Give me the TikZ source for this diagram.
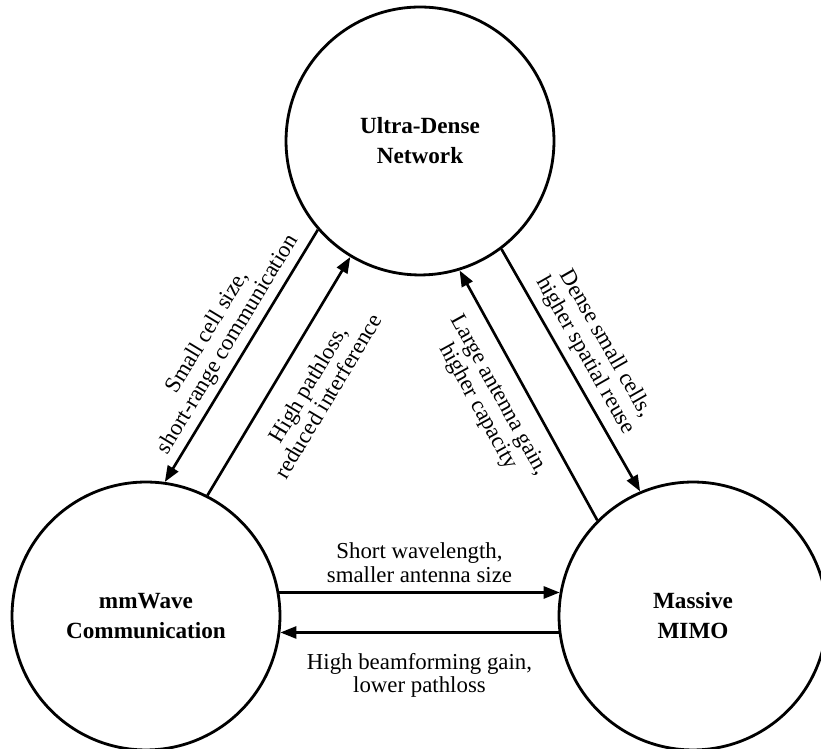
\documentclass[tikz,border=0pt]{standalone}
\usepackage{fontspec}
\setmainfont{Liberation Serif}
\usetikzlibrary{arrows.meta,positioning}

\begin{document}
\begin{tikzpicture}[
    x=0.02cm,
    y=0.02cm,
    >={Triangle[length=3.2mm,width=2.4mm]},
    tech/.style={circle,draw=black,line width=1.6pt,minimum size=5.36cm,
                 inner sep=0pt,align=center,
                 font=\fontsize{13.2}{17}\selectfont\bfseries},
    link/.style={->,draw=black,line width=1.5pt},
    note/.style={sloped,align=center,inner sep=0pt,
                 font=\fontsize{13}{13.5}\selectfont}
]

\useasboundingbox (0,0) rectangle (821,749);

\node[tech] (udn) at (420,608) {Ultra-Dense\\Network};
\node[tech] (mmw) at (146,133) {mmWave\\Communication};
\node[tech] (mim) at (693,133) {Massive\\MIMO};

% ultra-dense <-> mmWave
\draw[link] (udn.221) -- node[note,above=3pt,pos=0.49]
    {Small cell size,\\short-range communication} (mmw.82);
\draw[link] (mmw.63) -- node[note,below=11pt,pos=0.53]
    {High pathloss,\\reduced interference} (udn.239);

% ultra-dense <-> massive MIMO
\draw[link] (udn.307) -- node[note,above=4.5pt,pos=0.48]
    {Dense small cells,\\higher spatial reuse} (mim.113);
\draw[link] (mim.135) -- node[note,below=8.5pt,pos=0.55]
    {Large antenna gain,\\higher capacity} (udn.287);

% mmWave <-> massive MIMO
\draw[link] (mmw.10) -- node[note,above=5pt]
    {Short wavelength,\\smaller antenna size} (mim.170);
\draw[link] (mim.187) -- node[note,below=11pt]
    {High beamforming gain,\\lower pathloss} (mmw.353);

\end{tikzpicture}
\end{document}
